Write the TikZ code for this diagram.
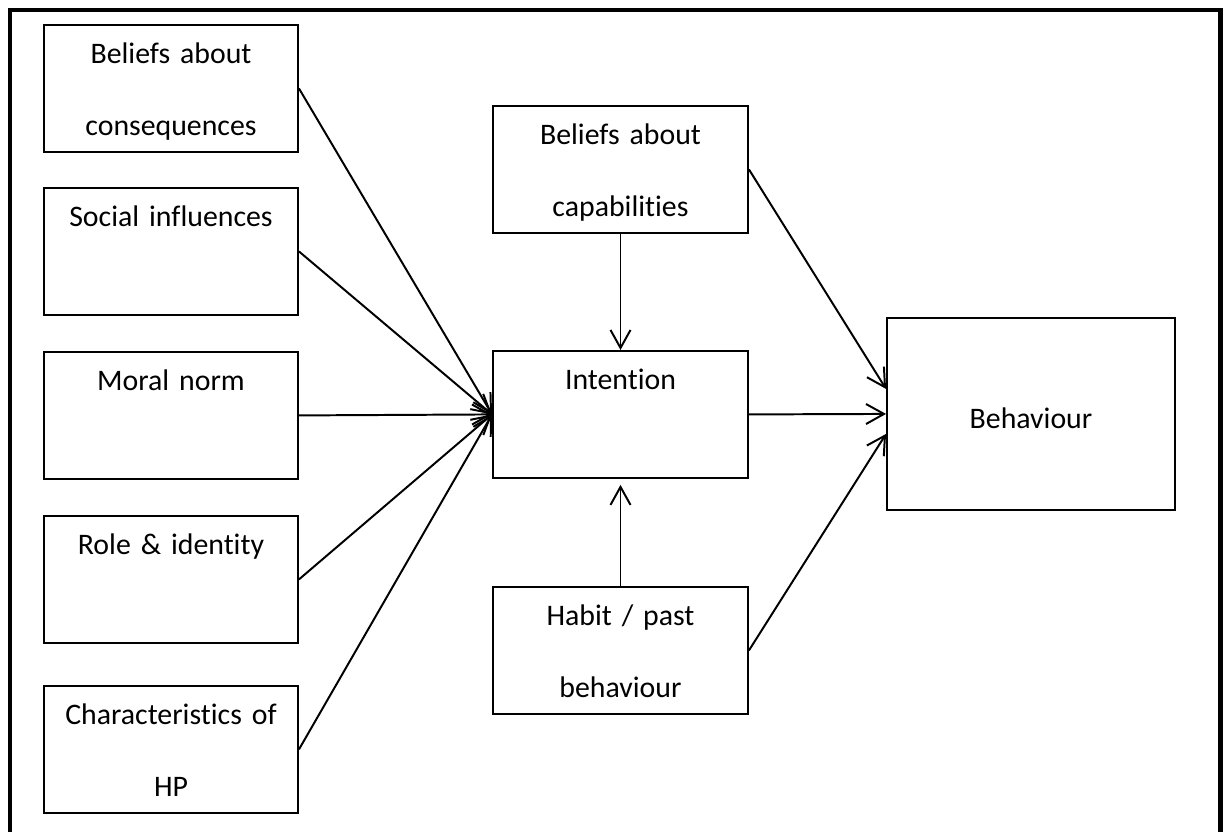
\documentclass[tikz,border=0pt]{standalone}
\usepackage{fontspec}
\setmainfont{Carlito}[Ligatures={NoCommon},WordSpace={0.75}]
\usetikzlibrary{arrows.meta,positioning}
\tikzset{
  >={Straight Barb[length=0.45cm,width=0.5cm]},
  box/.style={draw,line width=1.3pt,anchor=north,inner sep=0pt,align=center,
    text width=#1,minimum width=#1,text height=0.975cm,text depth=2.2cm,
    font=\fontsize{21.2}{51.2}\selectfont},
  box/.default=6.35cm,
  flow/.style={->,line width=1.4pt},
  frame/.style={line width=3.2pt}
}
\begin{document}
\begin{tikzpicture}[x=0.025cm,y=-0.025cm]
  \useasboundingbox (0,0) rectangle (1225,832);
  \clip (0,0) rectangle (1225,832);
  \draw[frame] (10,10) rectangle (1220.5,870);
  % determinants
  \node[box] (cons) at (171,24) {Beliefs about\\consequences};
  \node[box] (soc) at (171,187) {Social influences};
  \node[box] (moral) at (171,351) {Moral norm};
  \node[box] (role) at (171,515) {Role \& identity};
  \node[box] (charhp) at (171,685) {Characteristics of\\HP};
  % middle column
  \node[box=6.375cm] (cap) at (620.5,105) {Beliefs about\\capabilities};
  \node[box=6.375cm] (int) at (620.5,350) {Intention};
  \node[box=6.375cm] (hab) at (620.5,586) {Habit / past\\behaviour};
  \node[box=7.2cm,text height=2.775cm,text depth=2.025cm] (beh) at (1031,317) {Behaviour};
  \foreach \src in {cons,soc,moral,role,charhp}
    \draw[flow] (\src.east) -- (int.west);
  \draw[flow] (cap.south) -- (int.north);
  \draw[flow,shorten >=0.15cm] (hab.north) -- (int.south);
  \draw[flow] (int.east) -- (beh.west);
  \draw[flow] (cap.east) -- ([yshift=0.625cm]beh.west);
  \draw[flow] (hab.east) -- ([yshift=-0.5cm]beh.west);
\end{tikzpicture}
\end{document}
